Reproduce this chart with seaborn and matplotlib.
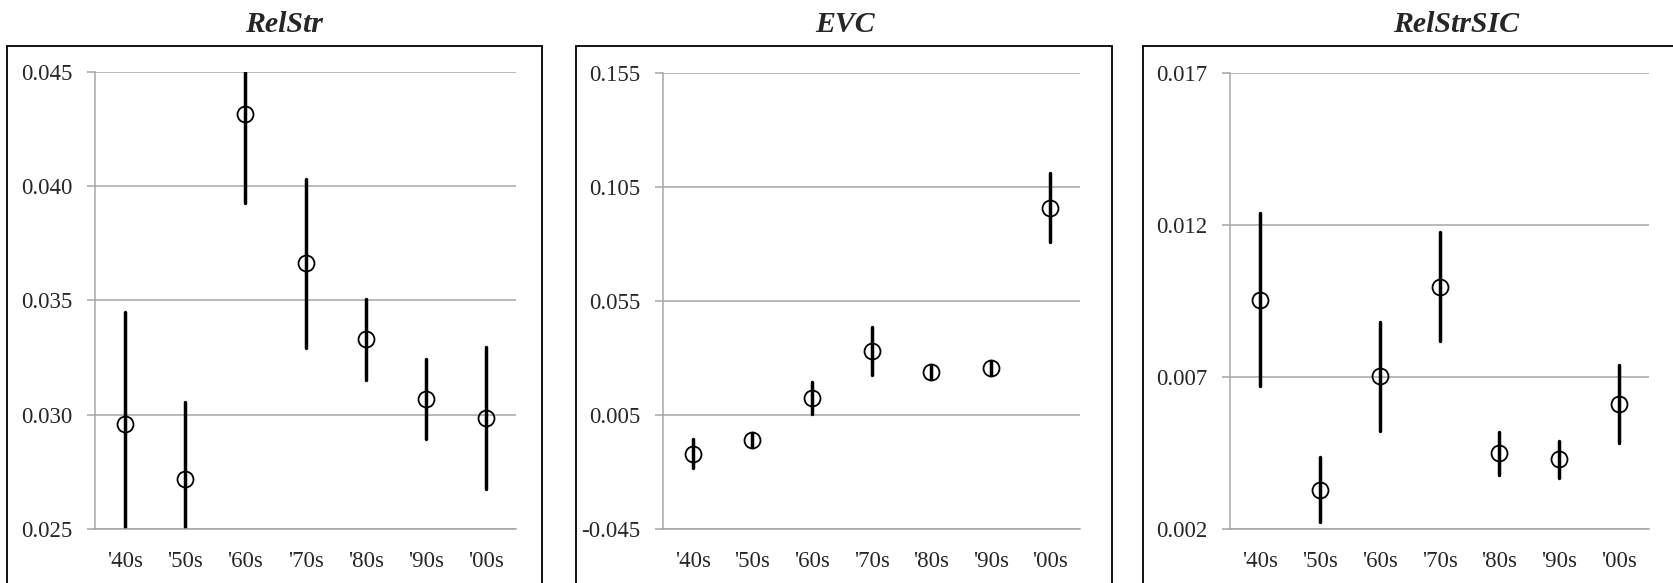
import numpy as np
import pandas as pd
import seaborn as sns
import matplotlib.pyplot as plt
from matplotlib.patches import Rectangle

#%% Data
decades = ["'40s", "'50s", "'60s", "'70s", "'80s", "'90s", "'00s"]

relstr_mean = [0.02961, 0.02717, 0.04316, 0.03663, 0.03331, 0.03070, 0.02985]
relstr_err = [0.00487, 0.00337, 0.00391, 0.00370, 0.00177, 0.00174, 0.00310]
relstr_ticks = [0.025, 0.030, 0.035, 0.040, 0.045]

evc_mean = [-0.01194, -0.00605, 0.01230, 0.03307, 0.02374, 0.02570, 0.09608]
evc_err = [0.0064, 0.0030, 0.0070, 0.0104, 0.0030, 0.0030, 0.0153]
evc_ticks = [-0.045, 0.005, 0.055, 0.105, 0.155]

sic_mean = [0.00955, 0.00329, 0.00703, 0.00998, 0.00449, 0.00430, 0.00611]
sic_err = [0.00284, 0.00107, 0.00180, 0.00178, 0.00070, 0.00061, 0.00129]
sic_ticks = [0.002, 0.007, 0.012, 0.017]

titles = ['RelStr', 'EVC', 'RelStrSIC']

#%% Style
sns.set_style('white')
plt.rcParams['font.family'] = ['Liberation Serif', 'DejaVu Serif']
plt.rcParams['axes.unicode_minus'] = False

GRID = '#a6a6a6'


def long_table(mean, err):
    # low / centre / high per decade, median + full range gives the bar
    rows = []
    for dec, m, e in zip(decades, mean, err):
        for v in (m - e, m, m + e):
            rows.append({'Decade': dec, 'Value': v})
    return pd.DataFrame(rows)


def draw_panel(ax, mean, err, ticks):
    df = long_table(mean, err)
    sns.pointplot(data=df, x='Decade', y='Value', order=decades, ax=ax,
                  estimator='median', errorbar=('pi', 100), color='black',
                  linestyle='none', marker='o', markersize=11.5,
                  markerfacecolor='none', markeredgewidth=1.3,
                  err_kws={'linewidth': 2.5}, capsize=0)
    ax.set_xlim(-0.5, len(decades) - 0.5)
    ax.set_ylim(ticks[0], ticks[-1])
    ax.set_yticks(ticks)
    ax.set_yticklabels([f'{t:.3f}' for t in ticks])
    ax.set_xticks(np.arange(-0.5, len(decades)), minor=True)
    ax.set_xlabel('')
    ax.set_ylabel('')
    ax.set_axisbelow(True)
    ax.yaxis.grid(True, color=GRID, lw=1.1)
    ax.xaxis.grid(False)
    for side in ['top', 'right']:
        ax.spines[side].set_visible(False)
    for side in ['left', 'bottom']:
        ax.spines[side].set_color(GRID)
        ax.spines[side].set_linewidth(1.1)
    ax.tick_params(axis='x', which='major', length=0, pad=16, labelsize=16.5)
    ax.tick_params(axis='x', which='minor', length=5, width=1.1, color=GRID, direction='out')
    ax.tick_params(axis='y', length=5.8, width=1.1, color=GRID, direction='out',
                   pad=10.5, labelsize=16.5, left=True)
    ax.patch.set_alpha(0)


fig = plt.figure(figsize=(16.73, 5.83), dpi=100)

H = 583
W = 1673
# plot areas in pixels: (left, right, top)
areas = [(95, 516, 72), (663, 1080, 73.3), (1230, 1649, 73.3)]
frames = [(7.3, 541.7), (575.7, 1112), (1143, 1800)]
title_x = [284, 845, 1456]
bottom = 529

for fr in frames:
    fig.add_artist(Rectangle((fr[0] / W, -0.2), (fr[1] - fr[0]) / W, 1.2 - 46 / H,
                             transform=fig.transFigure, fill=False,
                             edgecolor='black', lw=1.3, zorder=0))

axes = []
for (l, r, t) in areas:
    axes.append(fig.add_axes([l / W, 1 - bottom / H, (r - l) / W, (bottom - t) / H]))

draw_panel(axes[0], relstr_mean, relstr_err, relstr_ticks)
draw_panel(axes[1], evc_mean, evc_err, evc_ticks)
draw_panel(axes[2], sic_mean, sic_err, sic_ticks)

for tx, title in zip(title_x, titles):
    fig.text(tx / W, 1 - 32 / H, title, ha='center', va='baseline',
             fontsize=21.5, fontweight='bold', fontstyle='italic')

fig.savefig('out.png', dpi=100)
